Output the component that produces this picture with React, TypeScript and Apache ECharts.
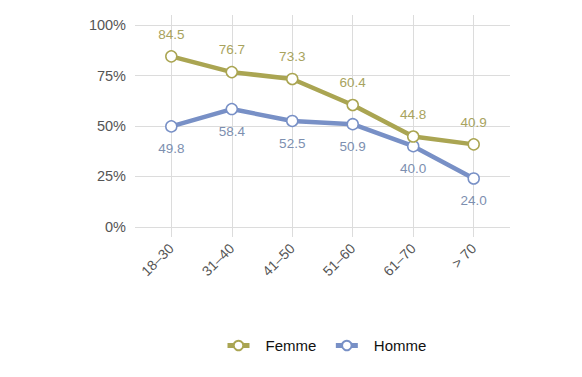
import React, { useEffect, useRef } from "react";
import * as echarts from "echarts";

const categories = ["18–30", "31–40", "41–50", "51–60", "61–70", "> 70"];
const femme = [84.5, 76.7, 73.3, 60.4, 44.8, 40.9];
const homme = [49.8, 58.4, 52.5, 50.9, 40.0, 24.0];
const yTicks = [0, 25, 50, 75, 100];
const xTicks = [0, 1, 2, 3, 4, 5];

export default function App() {
  const ref = useRef<HTMLDivElement>(null);
  useEffect(() => {
    if (!ref.current) return;
    const chart = echarts.init(ref.current, null, { renderer: "svg" });
    const font = "'Liberation Sans', Helvetica, Arial, sans-serif";
    const mk = (name: string, data: number[], color: string, labelColor: string, pos: string) => ({
      name,
      type: "line",
      data: data.map((v, i) => [i, v]),
      symbol: "circle",
      symbolSize: 11,
      lineStyle: { color, width: 4.5 },
      itemStyle: { color: "#ffffff", borderColor: color, borderWidth: 1.5 },
      label: {
        show: true,
        position: pos,
        distance: 9,
        color: labelColor,
        fontSize: 13.5,
        fontFamily: font,
        formatter: (p: any) => p.value[1].toFixed(1),
      },
      z: name === "Femme" ? 3 : 2,
    });
    chart.setOption({
      animation: false,
      backgroundColor: "#ffffff",
      textStyle: { fontFamily: font },
      grid: { left: 135, right: 72, top: 15, bottom: 140 },
      legend: {
        bottom: 19,
        left: 220,
        itemWidth: 22,
        itemHeight: 12,
        itemGap: 17,
        lineStyle: { width: 5 },
        textStyle: { color: "#111", fontSize: 15, fontFamily: font, padding: [0, 0, 0, 11] },
        data: ["Femme", "Homme"],
      },
      xAxis: {
        type: "value",
        min: -0.6,
        max: 5.6,
        axisLine: { show: false },
        axisTick: { show: false, customValues: xTicks },
        splitLine: { show: true, lineStyle: { color: "#dcdcdc", width: 1 } },
        axisLabel: {
          customValues: xTicks,
          rotate: 45,
          color: "#555",
          fontSize: 14,
          fontFamily: font,
          margin: 9,
          formatter: (v: number) => categories[Math.round(v)] ?? "",
        },
      },
      yAxis: {
        type: "value",
        min: -5,
        max: 105,
        axisLine: { show: false },
        axisTick: { show: false, customValues: yTicks },
        splitLine: { show: true, lineStyle: { color: "#dcdcdc", width: 1 } },
        axisLabel: {
          customValues: yTicks,
          color: "#555",
          fontSize: 14.5,
          fontFamily: font,
          margin: 9,
          formatter: (v: number) => v + "%",
        },
      },
      series: [
        mk("Femme", femme, "#aaa552", "#a8a35e", "top"),
        mk("Homme", homme, "#7890c6", "#7d8fb0", "bottom"),
      ],
    });
    return () => chart.dispose();
  }, []);
  return <div ref={ref} style={{ width: 582, height: 377, margin: -8 }} />;
}
